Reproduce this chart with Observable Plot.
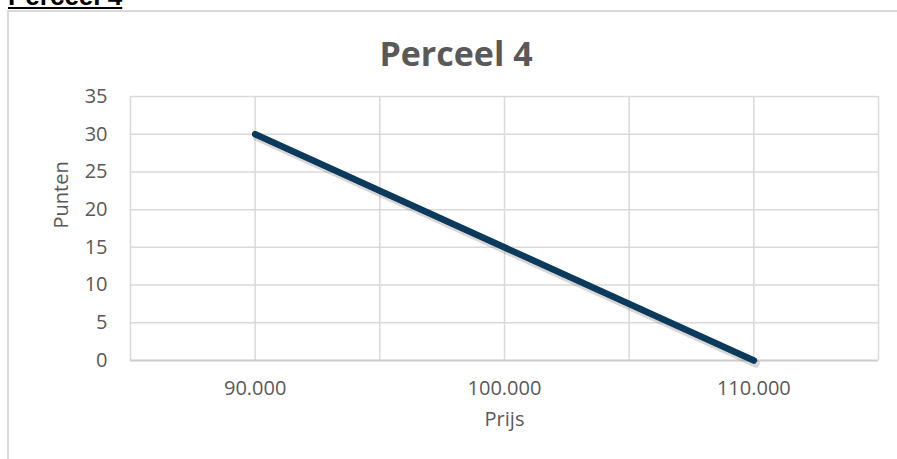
<!DOCTYPE html>
<html>
<head>
<meta charset="utf-8">
<script src="https://cdn.jsdelivr.net/npm/d3@7"></script>
<script src="https://cdn.jsdelivr.net/npm/@observablehq/plot@0.6"></script>
<style>
  html, body { margin: 0; padding: 0; background: #fff; }
  #wrap { position: relative; width: 897px; height: 459px; overflow: hidden; }
  #header { position: absolute; left: 8px; top: -19px; font-family: "Liberation Sans", Arial, sans-serif; font-weight: bold; font-size: 26px; color: #000; text-decoration: underline; text-decoration-thickness: 2px; text-underline-offset: 2px; white-space: nowrap; line-height: 30px; }
  #frameTop { position: absolute; left: 8px; top: 10px; width: 889px; height: 0; border-top: 2px solid #d9d9d9; }
  #frameLeft { position: absolute; left: 7px; top: 10px; width: 0; height: 449px; border-left: 2px solid #d9d9d9; }
  #title { position: absolute; left: 456px; top: 30px; transform: translateX(-50%); font-family: "Open Sans", sans-serif; font-weight: bold; font-size: 34px; color: #595959; white-space: nowrap; line-height: 46px; }
  #chart { position: absolute; left: 0; top: 0; }
</style>
</head>
<body>
<div id="wrap">
  <div id="chart"></div>
  <div id="frameTop"></div>
  <div id="frameLeft"></div>
  <div id="header">Perceel 4</div>
  <div id="title">Perceel 4</div>
</div>
<script>
// Data
const prijs = [90000, 110000];
const punten = [30, 0];
const xTickValues = [90000, 100000, 110000];
const xGridValues = [85000, 90000, 95000, 100000, 105000, 110000, 115000];
const yTickValues = [0, 5, 10, 15, 20, 25, 30, 35];
const xLabel = "Prijs";
const yLabel = "Punten";

const data = prijs.map((p, i) => ({prijs: p, punten: punten[i]}));
const nl = d3.formatLocale({decimal: ",", thousands: ".", grouping: [3], currency: ["€", ""]});
const fmt = nl.format(",.0f");

const chart = Plot.plot({
  width: 897,
  height: 459,
  marginLeft: 130,
  marginRight: 19,
  marginTop: 96,
  marginBottom: 99,
  x: {domain: [85000, 115000]},
  y: {domain: [0, 35]},
  style: {fontFamily: "'Open Sans', sans-serif", color: "#595959", background: "transparent", overflow: "visible"},
  marks: [
    Plot.gridX(xGridValues, {stroke: "#d9d9d9", strokeOpacity: 1, strokeWidth: 1.5}),
    Plot.gridY(yTickValues.filter(d => d > 0), {stroke: "#d9d9d9", strokeOpacity: 1, strokeWidth: 1.5}),
    Plot.ruleY([0], {stroke: "#cccccc", strokeWidth: 2}),
    Plot.axisX(xTickValues, {tickSize: 0, tickPadding: 20, fontSize: 20, tickFormat: fmt, label: null, fill: "#595959"}),
    Plot.axisY(yTickValues, {tickSize: 0, tickPadding: 23, fontSize: 20, label: null, fill: "#595959"}),
    Plot.text([xLabel], {frameAnchor: "bottom", dy: 65, fontSize: 20, fill: "#595959"}),
    Plot.text([yLabel], {frameAnchor: "left", dx: -69, rotate: -90, fontSize: 20, fill: "#595959"}),
    Plot.line(data, {x: "prijs", y: "punten", stroke: "#7f7f7f", strokeOpacity: 0.3, strokeWidth: 8, dx: 2, dy: 3, strokeLinecap: "round"}),
    Plot.line(data, {x: "prijs", y: "punten", stroke: "#0c3a5c", strokeWidth: 6.5, strokeLinecap: "round"})
  ]
});
document.getElementById("chart").appendChild(chart);
</script>
</body>
</html>
